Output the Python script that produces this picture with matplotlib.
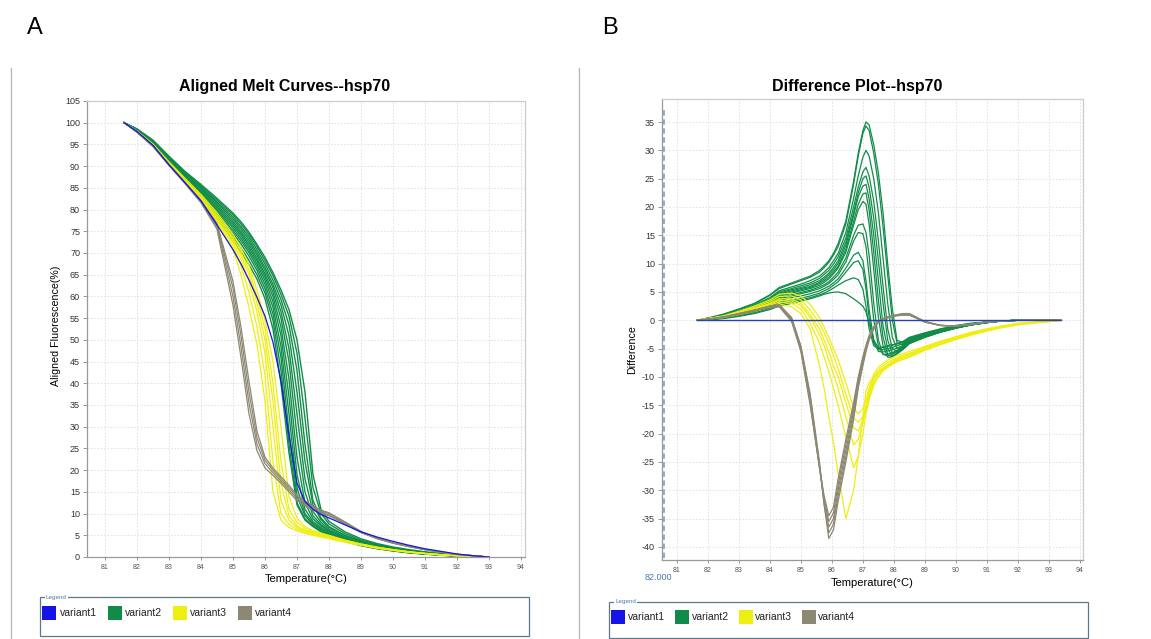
import matplotlib.pyplot as plt
from matplotlib.patches import Rectangle
from matplotlib.lines import Line2D

plt.rcParams['font.family'] = ['Liberation Sans', 'DejaVu Sans']
plt.rcParams['axes.unicode_minus'] = False

W, H = 1151, 639

## colours
c_blue = '#1414e6'
c_green = '#108c48'
c_yellow = '#eeee10'
c_grey = '#8c8873'

## A: aligned melt curves
temp_a = [81.6, 82, 82.5, 83, 83.5, 84, 84.5, 85, 85.25, 85.5, 85.75, 86, 86.25, 86.5, 86.75,
          87, 87.25, 87.5, 87.75, 88, 88.5, 89, 89.5, 90, 90.5, 91, 91.5, 92, 92.5, 93]

blue_a = [100, 98.0, 94.8, 90.3, 86.2, 82.0, 76.5, 70.8, 67.5, 63.8, 59.8, 55.5, 49.5, 40.5, 28,
          17, 12.8, 11, 9.8, 9.0, 7.4, 5.8, 4.6, 3.6, 2.7, 1.9, 1.3, 0.7, 0.3, 0]

green_a = [
    [100, 98.6, 96, 92.3, 88.8, 85.8, 82.6, 79.2, 77.2, 74.8, 72, 69, 65.5, 61.5, 57, 50, 38, 19, 11, 8.2, 5.8, 4.2, 3.1, 2.3, 1.7, 1.2, 0.8, 0.45, 0.2, 0],
    [100, 98.5, 95.9, 92.1, 88.6, 85.5, 82.2, 78.8, 76.7, 74.3, 71.5, 68.3, 64.8, 60.5, 55.5, 47, 32, 16, 10, 7.6, 5.4, 3.9, 2.9, 2.1, 1.5, 1.1, 0.7, 0.4, 0.2, 0],
    [100, 98.5, 95.8, 92.0, 88.4, 85.2, 81.8, 78.3, 76.1, 73.7, 70.8, 67.5, 63.8, 59.3, 53.5, 43, 26, 13, 9, 7, 5, 3.7, 2.7, 2.0, 1.4, 1.0, 0.7, 0.4, 0.2, 0],
    [100, 98.4, 95.7, 91.8, 88.2, 85.0, 81.5, 77.8, 75.6, 73.1, 70.1, 66.7, 62.8, 58, 51, 38, 22, 12, 8.6, 6.8, 4.9, 3.6, 2.6, 1.9, 1.4, 1.0, 0.6, 0.35, 0.15, 0],
    [100, 98.4, 95.6, 91.7, 88.0, 84.7, 81.1, 77.3, 75.0, 72.5, 69.5, 66, 62, 56.5, 48, 33, 18, 10.5, 8, 6.4, 4.6, 3.4, 2.5, 1.8, 1.3, 0.9, 0.6, 0.35, 0.15, 0],
    [100, 98.3, 95.5, 91.5, 87.8, 84.4, 80.7, 76.8, 74.5, 71.9, 68.8, 65.2, 61, 55, 45, 28, 15, 9.5, 7.5, 6.1, 4.4, 3.2, 2.4, 1.7, 1.2, 0.9, 0.6, 0.3, 0.15, 0],
    [100, 98.3, 95.4, 91.3, 87.5, 84.1, 80.3, 76.3, 74.0, 71.3, 68.2, 64.5, 60, 53, 41, 23, 12.5, 8.8, 7.2, 5.9, 4.2, 3.1, 2.3, 1.6, 1.2, 0.8, 0.5, 0.3, 0.1, 0],
    [100, 98.2, 95.3, 91.1, 87.3, 83.8, 79.9, 75.8, 73.4, 70.7, 67.5, 63.7, 58.8, 51, 37, 19, 11, 8.2, 6.8, 5.6, 4.0, 3.0, 2.2, 1.6, 1.1, 0.8, 0.5, 0.3, 0.1, 0],
    [100, 98.2, 95.2, 90.9, 87.1, 83.5, 79.5, 75.2, 72.8, 70.1, 66.8, 62.8, 57.5, 48.5, 33, 16, 10, 7.8, 6.5, 5.4, 3.9, 2.9, 2.1, 1.5, 1.1, 0.75, 0.5, 0.25, 0.1, 0],
    [100, 98.1, 95.1, 90.7, 86.9, 83.2, 79.0, 74.6, 72.1, 69.3, 66, 61.8, 56, 46, 29, 14, 9.5, 7.5, 6.3, 5.3, 3.8, 2.8, 2.0, 1.5, 1.0, 0.7, 0.45, 0.25, 0.1, 0],
    [100, 98.0, 95.0, 90.5, 86.6, 82.8, 78.5, 73.8, 71.2, 68.3, 65, 60.8, 54.5, 43, 26, 12.5, 8.8, 7.2, 6, 5.1, 3.7, 2.7, 2.0, 1.4, 1.0, 0.7, 0.45, 0.25, 0.1, 0],
    [100, 98.0, 94.9, 90.3, 86.3, 82.4, 78.0, 73.0, 70.3, 67.3, 64, 59.5, 52.5, 40, 24, 12, 8.5, 7, 5.8, 5, 3.6, 2.6, 1.9, 1.4, 0.95, 0.65, 0.4, 0.2, 0.1, 0],
]

yellow_a = [
    [100, 97.8, 94.6, 90.2, 86.1, 82.0, 77.2, 71.0, 65, 57.5, 49, 36, 15, 8.5, 6.8, 6.0, 5.4, 5.0, 4.6, 4.2, 3.4, 2.7, 2.0, 1.5, 1.1, 0.8, 0.5, 0.3, 0.1, 0],
    [100, 97.9, 94.7, 90.4, 86.3, 82.3, 77.6, 71.8, 67, 61, 53, 42, 22, 10, 7.5, 6.4, 5.7, 5.2, 4.8, 4.4, 3.5, 2.8, 2.1, 1.6, 1.1, 0.8, 0.5, 0.3, 0.1, 0],
    [100, 97.9, 94.8, 90.5, 86.5, 82.5, 78, 72.4, 68.5, 63.5, 56.5, 47, 30, 13, 8.5, 6.8, 6, 5.4, 5, 4.6, 3.6, 2.8, 2.1, 1.6, 1.1, 0.8, 0.5, 0.3, 0.1, 0],
    [100, 98.0, 94.9, 90.6, 86.7, 82.8, 78.4, 73.0, 69.5, 65, 58.5, 50, 36, 17, 9.5, 7.2, 6.2, 5.6, 5.1, 4.7, 3.7, 2.9, 2.2, 1.6, 1.2, 0.8, 0.5, 0.3, 0.1, 0],
    [100, 98.0, 95.0, 90.8, 86.9, 83.1, 78.8, 73.6, 70.3, 66, 60, 52.5, 40, 22, 11, 8, 6.6, 5.8, 5.3, 4.8, 3.8, 3.0, 2.2, 1.7, 1.2, 0.8, 0.5, 0.3, 0.1, 0],
    [100, 98.1, 95.1, 91.0, 87.2, 83.5, 79.3, 74.3, 71.2, 67.2, 61.5, 54.5, 45, 30, 14, 9, 7, 6.1, 5.5, 5.0, 3.9, 3.0, 2.3, 1.7, 1.2, 0.85, 0.55, 0.3, 0.1, 0],
]

grey_a = [
    [100, 97.8, 94.5, 90.2, 86.0, 81.6, 75.5, 58, 46, 33, 24.5, 20.5, 18.8, 17, 15, 13, 11.8, 10.8, 10, 9.5, 7.6, 5.6, 4.2, 3.2, 2.4, 1.7, 1.1, 0.6, 0.3, 0],
    [100, 97.8, 94.6, 90.3, 86.1, 81.8, 76, 60, 48.5, 35.5, 26, 21.5, 19.4, 17.5, 15.5, 13.5, 12.2, 11.1, 10.3, 9.7, 7.8, 5.7, 4.3, 3.2, 2.4, 1.7, 1.1, 0.6, 0.3, 0],
    [100, 97.9, 94.7, 90.4, 86.2, 82.0, 76.4, 62, 51, 38, 27.5, 22.3, 20, 18, 16, 14, 12.6, 11.4, 10.6, 10, 8, 5.8, 4.3, 3.2, 2.4, 1.7, 1.1, 0.6, 0.3, 0],
    [100, 97.9, 94.8, 90.5, 86.3, 82.1, 76.8, 63.5, 53, 40.5, 29, 23, 20.5, 18.5, 16.5, 14.3, 12.9, 11.7, 10.8, 10.2, 8.1, 5.9, 4.4, 3.3, 2.5, 1.7, 1.1, 0.6, 0.3, 0],
]

## B: difference plot
temp_b = [81.65, 82.0, 82.5, 83.0, 83.5, 84.0, 84.3, 84.7, 85.0, 85.3, 85.6, 85.75, 85.9, 86.05, 86.2,
          86.45, 86.7, 86.85, 87.0, 87.1, 87.2, 87.35, 87.5, 87.65, 87.8, 87.95, 88.1, 88.3, 88.5,
          89.0, 89.5, 90.0, 90.5, 91.0, 91.5, 92.0, 93.4]

blue_b_temp = [81.65, 93.4]
blue_b = [0, 0]

green_b = [
    [0, 0.4, 1.1, 2.0, 3.0, 4.5, 5.8, 6.6, 7.2, 7.8, 8.8, 9.6, 10.5, 11.8, 13.5, 17.5, 24.5, 29.5, 33.5, 35, 34.5, 31, 26, 19, 10, 2, -3.5, -4, -3.2, -2.4, -1.7, -1.1, -0.6, -0.3, -0.1, 0, 0],
    [0, 0.4, 1.0, 1.9, 2.9, 4.4, 5.6, 6.4, 7.0, 7.6, 8.5, 9.3, 10.2, 11.5, 13, 17, 24, 29, 33, 34.3, 33.5, 29.5, 24, 16.5, 8, 0, -4, -4.3, -3.4, -2.5, -1.8, -1.1, -0.6, -0.3, -0.1, 0, 0],
    [0, 0.3, 0.9, 1.7, 2.7, 4.0, 5.2, 5.9, 6.4, 7.0, 7.8, 8.5, 9.3, 10.5, 11.8, 15.5, 21.5, 25.5, 28.8, 30, 29, 25, 19, 11, 3, -3, -5, -4.6, -3.6, -2.6, -1.9, -1.2, -0.7, -0.3, -0.1, 0, 0],
    [0, 0.3, 0.9, 1.6, 2.5, 3.8, 5.0, 5.6, 6.1, 6.6, 7.4, 8.1, 8.8, 9.9, 11.2, 14.5, 20, 23.5, 26.2, 27, 25.5, 21, 14, 6, -1.5, -5, -5.5, -4.8, -3.8, -2.7, -1.9, -1.2, -0.7, -0.4, -0.1, 0, 0],
    [0, 0.3, 0.8, 1.5, 2.4, 3.6, 4.8, 5.4, 5.8, 6.3, 7.0, 7.6, 8.3, 9.3, 10.5, 13.8, 19, 22.5, 25, 25.5, 23.5, 18, 10.5, 3, -3.5, -5.8, -5.6, -4.9, -3.9, -2.8, -2.0, -1.3, -0.8, -0.4, -0.1, 0, 0],
    [0, 0.3, 0.8, 1.5, 2.3, 3.5, 4.6, 5.2, 5.6, 6.0, 6.7, 7.3, 8.0, 8.9, 10.0, 13.2, 18.5, 21.8, 23.7, 24, 21.5, 15, 7, -1, -5, -6.3, -5.8, -5.0, -4.0, -2.9, -2.0, -1.3, -0.8, -0.4, -0.1, 0, 0],
    [0, 0.2, 0.7, 1.4, 2.2, 3.3, 4.4, 5.0, 5.4, 5.8, 6.5, 7.0, 7.6, 8.5, 9.5, 12.5, 17.5, 20.5, 22.3, 22.5, 19.5, 12, 3.5, -3, -6, -6.5, -5.9, -5.1, -4.1, -3.0, -2.1, -1.4, -0.8, -0.4, -0.1, 0, 0],
    [0, 0.2, 0.7, 1.3, 2.1, 3.2, 4.2, 4.8, 5.2, 5.6, 6.2, 6.7, 7.3, 8.2, 9.2, 12, 16.8, 19.5, 21, 20.5, 17, 9, 0.5, -4.5, -6.5, -6.5, -5.9, -5.1, -4.1, -3.0, -2.1, -1.4, -0.8, -0.4, -0.1, 0, 0],
    [0, 0.2, 0.6, 1.2, 2.0, 3.0, 4.0, 4.5, 4.9, 5.3, 5.9, 6.3, 6.8, 7.6, 8.5, 11, 15, 16.8, 17, 15.5, 11.5, 3, -3.5, -6, -6.3, -6, -5.5, -4.8, -3.9, -2.9, -2.0, -1.3, -0.8, -0.4, -0.1, 0, 0],
    [0, 0.2, 0.6, 1.1, 1.9, 2.9, 3.8, 4.3, 4.7, 5.1, 5.6, 6.0, 6.5, 7.2, 8.0, 10.3, 14, 15.5, 15.3, 13, 8, 0, -4.5, -6, -6, -5.7, -5.3, -4.7, -3.8, -2.8, -2.0, -1.3, -0.8, -0.4, -0.1, 0, 0],
    [0, 0.2, 0.5, 1.0, 1.7, 2.6, 3.5, 4.0, 4.3, 4.7, 5.2, 5.6, 6.0, 6.6, 7.3, 9.2, 11.5, 12, 10.5, 7, 2, -3.5, -5.5, -5.6, -5.4, -5.2, -4.9, -4.4, -3.6, -2.7, -1.9, -1.2, -0.7, -0.4, -0.1, 0, 0],
    [0, 0.1, 0.4, 0.9, 1.5, 2.4, 3.2, 3.6, 3.9, 4.3, 4.8, 5.2, 5.6, 6.2, 6.8, 8.5, 10.2, 10.5, 9, 5.5, 0.5, -4, -5.2, -5.2, -5, -4.8, -4.5, -4.1, -3.4, -2.5, -1.8, -1.1, -0.7, -0.3, -0.1, 0, 0],
    [0, 0.1, 0.4, 0.8, 1.3, 2.1, 2.8, 3.3, 3.6, 4.0, 4.5, 4.8, 5.2, 5.7, 6.2, 7.0, 7.5, 7.2, 5.5, 2.5, -1.5, -4.5, -5, -4.8, -4.6, -4.4, -4.2, -3.8, -3.1, -2.3, -1.6, -1.0, -0.6, -0.3, -0.1, 0, 0],
    [0, 0.1, 0.3, 0.7, 1.2, 1.9, 2.5, 3.0, 3.4, 3.8, 4.3, 4.6, 4.8, 4.95, 5.0, 4.7, 3.8, 3.2, 2.5, 1.5, -0.5, -3.5, -4.8, -4.7, -4.5, -4.3, -4.1, -3.7, -3.0, -2.2, -1.5, -0.9, -0.5, -0.3, -0.1, 0, 0],
]

yellow_b = [
    [0, 0.2, 0.5, 1.0, 1.6, 2.3, 2.8, 2.4, 1.2, -1.5, -8, -12, -17, -21.5, -27, -35, -30, -24, -17, -12.5, -11, -10, -9.2, -8.5, -8, -7.6, -7.2, -6.8, -6.4, -5.2, -4.2, -3.3, -2.5, -1.8, -1.2, -0.7, 0],
    [0, 0.2, 0.6, 1.2, 1.9, 2.7, 3.2, 3.0, 2.0, -0.5, -4, -6.5, -9, -12, -15, -20.5, -26, -24, -20, -16.5, -14, -11.5, -10, -9, -8.3, -7.8, -7.3, -6.9, -6.5, -5.3, -4.3, -3.4, -2.6, -1.9, -1.3, -0.8, 0],
    [0, 0.2, 0.6, 1.3, 2.0, 2.9, 3.5, 3.4, 2.6, 0.5, -2.5, -4.5, -7, -9.5, -12, -17, -22, -21, -18, -15.5, -13.5, -11, -9.6, -8.7, -8, -7.5, -7, -6.6, -6.2, -5.1, -4.1, -3.2, -2.4, -1.7, -1.1, -0.7, 0],
    [0, 0.3, 0.7, 1.4, 2.1, 3.0, 3.8, 3.8, 3.0, 1.0, -1.5, -3.5, -5.5, -8, -10, -14.5, -19, -19.5, -17.5, -15.5, -13, -10.5, -9.2, -8.4, -7.8, -7.3, -6.8, -6.4, -6.0, -5.0, -4.0, -3.1, -2.3, -1.6, -1.1, -0.6, 0],
    [0, 0.3, 0.7, 1.5, 2.3, 3.3, 4.2, 4.3, 3.6, 1.8, -0.5, -2.2, -4, -6.2, -8.5, -13, -17.2, -18, -17, -15, -12.5, -10, -8.8, -8.0, -7.4, -7.0, -6.6, -6.2, -5.8, -4.8, -3.8, -3.0, -2.2, -1.6, -1.0, -0.6, 0],
    [0, 0.3, 0.8, 1.6, 2.5, 3.6, 4.6, 4.8, 4.3, 2.8, 0.5, -1.2, -3, -5, -7, -11, -15.5, -16.5, -15.5, -14, -12, -9.5, -8.3, -7.6, -7.0, -6.6, -6.2, -5.9, -5.5, -4.6, -3.7, -2.9, -2.1, -1.5, -1.0, -0.5, 0],
]

grey_b = [
    [0, 0.2, 0.6, 1.2, 1.8, 2.5, 2.8, 0.5, -4.5, -13, -25, -32.5, -38.5, -37, -32, -25, -17.5, -12, -8, -5.5, -3.5, -1.5, -0.3, 0.3, 0.6, 0.8, 1.0, 1.2, 1.2, -0.2, -0.9, -1.0, -0.7, -0.3, -0.1, 0, 0],
    [0, 0.2, 0.6, 1.2, 1.8, 2.5, 2.7, 0.3, -4.8, -13.5, -25.5, -32.5, -37.5, -36, -31, -24, -16.8, -11.5, -7.6, -5.2, -3.3, -1.4, -0.3, 0.3, 0.6, 0.8, 1.0, 1.1, 1.1, -0.2, -0.9, -1.0, -0.7, -0.3, -0.1, 0, 0],
    [0, 0.2, 0.6, 1.1, 1.7, 2.4, 2.6, 0.2, -5, -14, -26, -32, -36.5, -35, -30, -23, -16, -11, -7.2, -5, -3.1, -1.3, -0.2, 0.3, 0.5, 0.7, 0.9, 1.0, 1.0, -0.3, -0.9, -1.0, -0.7, -0.3, -0.1, 0, 0],
    [0, 0.2, 0.5, 1.1, 1.7, 2.3, 2.5, 0, -5.2, -14.5, -26, -31.5, -35.5, -34, -29, -22, -15.2, -10.5, -6.8, -4.7, -2.9, -1.2, -0.2, 0.2, 0.5, 0.7, 0.9, 1.0, 1.0, -0.3, -0.9, -1.0, -0.7, -0.3, -0.1, 0, 0],
    [0, 0.2, 0.5, 1.0, 1.6, 2.2, 2.4, -0.2, -5.5, -15, -26, -31, -34.5, -33, -28, -21, -14.5, -10, -6.4, -4.4, -2.7, -1.1, -0.1, 0.2, 0.4, 0.6, 0.8, 0.9, 0.9, -0.3, -0.9, -1.0, -0.7, -0.3, -0.1, 0, 0],
]

legend_names = ['variant1', 'variant2', 'variant3', 'variant4']
legend_colors = [c_blue, c_green, c_yellow, c_grey]

fig = plt.figure(figsize=(W / 100, H / 100), dpi=100)


def px(x, y):
    return x / W, 1 - y / H


def style_axes(ax, xticks, yticks):
    ax.set_xticks(xticks)
    ax.set_yticks(yticks)
    ax.grid(True, color='#dedede', linestyle=(0, (2, 2)), linewidth=0.6)
    ax.set_axisbelow(True)
    ax.tick_params(axis='y', labelsize=6.5, labelcolor='#333333', length=3, width=0.6, color='#888888', pad=2)
    ax.tick_params(axis='x', labelsize=5, labelcolor='#555555', length=2, width=0.6, color='#888888', pad=3)
    for s in ['left', 'bottom']:
        ax.spines[s].set_color('#999999')
        ax.spines[s].set_linewidth(0.9)
    for s in ['top', 'right']:
        ax.spines[s].set_color('#cccccc')
        ax.spines[s].set_linewidth(0.9)


## panel A
axA = fig.add_axes([87 / W, 1 - 557 / H, 438 / W, 456 / H])
for ys in green_a:
    axA.plot(temp_a, ys, color=c_green, lw=1.0)
for ys in yellow_a:
    axA.plot(temp_a, ys, color=c_yellow, lw=0.9)
for ys in grey_a:
    axA.plot(temp_a, ys, color=c_grey, lw=0.9)
axA.plot(temp_a, blue_a, color=c_blue, lw=0.9)
axA.set_xlim(80.44, 94.125)
axA.set_ylim(0, 105)
style_axes(axA, list(range(81, 95)), list(range(0, 106, 5)))

## panel B
axB = fig.add_axes([662 / W, 1 - 560 / H, 421 / W, 461 / H])
for ys in green_b:
    axB.plot(temp_b, ys, color=c_green, lw=0.9)
for ys in yellow_b:
    axB.plot(temp_b, ys, color=c_yellow, lw=0.9)
for ys in grey_b:
    axB.plot(temp_b, ys, color=c_grey, lw=0.9)
axB.plot(blue_b_temp, blue_b, color='#2a3fb0', lw=1.0)
axB.set_xlim(80.52, 94.1)
axB.set_ylim(-42.3, 39.06)
style_axes(axB, list(range(81, 95)), list(range(-40, 36, 5)))
axB.axvline(80.58, ymin=0.004, ymax=0.98, color='#8aa2c8', lw=1.3, linestyle=(0, (3, 2)))
fig.text(*px(658, 577), '82.000', color='#4a78b0', fontsize=6.5, ha='center', va='center')

## titles and labels
fig.text(*px(35, 28), 'A', fontsize=17, ha='center', va='center')
fig.text(*px(610, 28), 'B', fontsize=17, ha='center', va='center')
fig.text(*px(285, 87), 'Aligned Melt Curves--hsp70', fontsize=11.5, weight='bold', ha='center', va='center')
fig.text(*px(857, 86), 'Difference Plot--hsp70', fontsize=11.5, weight='bold', ha='center', va='center')
fig.text(*px(56, 326), 'Aligned Fluorescence(%)', fontsize=7.7, rotation=90, ha='center', va='center')
fig.text(*px(632, 350), 'Difference', fontsize=7.7, rotation=90, ha='center', va='center')
fig.text(*px(306, 579), 'Temperature(°C)', fontsize=8, ha='center', va='center')
fig.text(*px(872, 583), 'Temperature(°C)', fontsize=8, ha='center', va='center')

## separators
for sx in [11, 579]:
    fig.add_artist(Line2D([sx / W, sx / W], [1 - 68 / H, 0], color='#bbbbbb', lw=1.0))


## legend boxes
def draw_legend(x0, y0, x1, y1, swatch_x, text_x, yc):
    fx0, fy1 = px(x0, y1)
    fx1, fy0 = px(x1, y0)
    fig.add_artist(Rectangle((fx0, fy1), fx1 - fx0, fy0 - fy1, transform=fig.transFigure,
                             fill=False, edgecolor='#5f7888', lw=0.9))
    fig.text(*px(x0 + 6, y0), 'Legend', fontsize=4.5, color='#4a78b0', ha='left', va='center',
             bbox=dict(facecolor='white', edgecolor='none', pad=0.5))
    for sx, tx, name, col in zip(swatch_x, text_x, legend_names, legend_colors):
        rx, ry = px(sx, yc + 7)
        fig.add_artist(Rectangle((rx, ry), 14 / W, 14 / H, transform=fig.transFigure,
                                 facecolor=col, edgecolor='none'))
        fig.text(*px(tx, yc), name, fontsize=7.5, ha='left', va='center', color='#222222')


draw_legend(40, 597, 529, 636, [42, 108, 173, 238], [60, 125, 190, 255], 613)
draw_legend(609, 602, 1088, 638, [611, 675, 739, 802], [628, 692, 755, 818], 617)

fig.savefig('out.png', dpi=100)
